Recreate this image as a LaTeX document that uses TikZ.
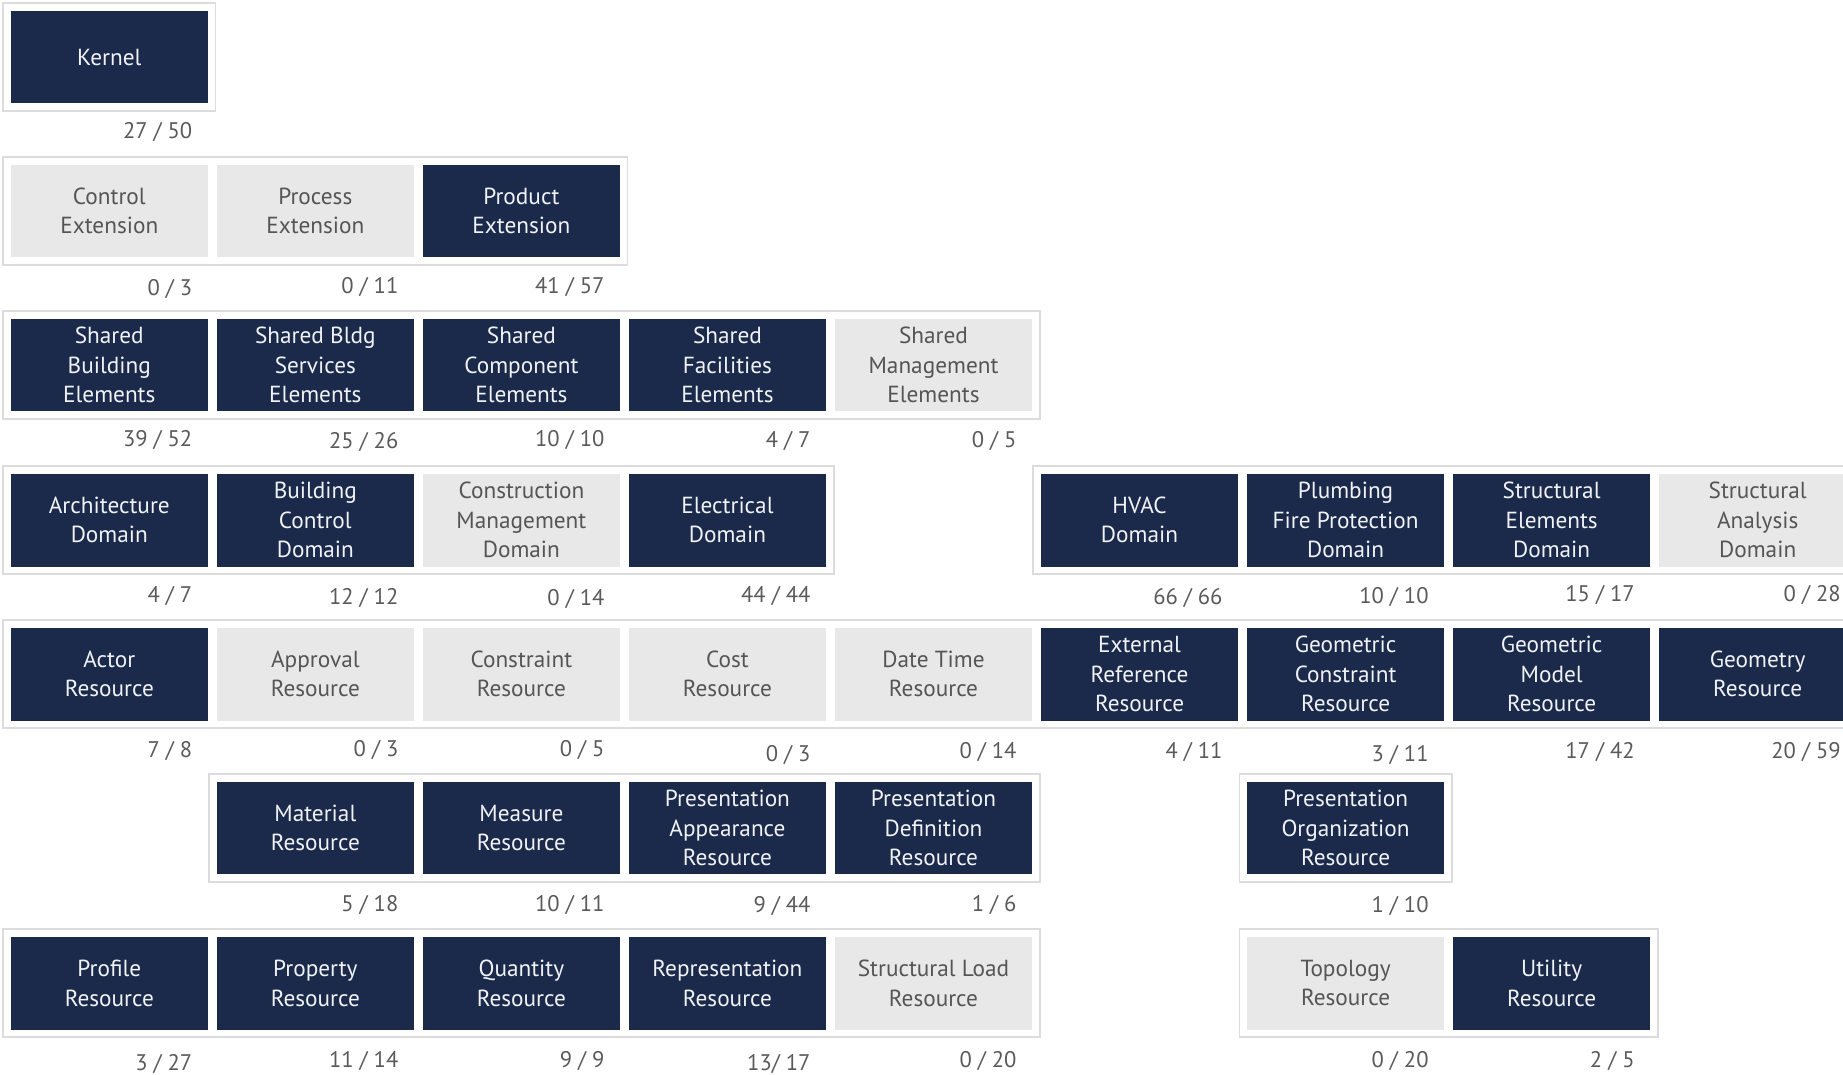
\documentclass[tikz,border=0pt]{standalone}
\usepackage{fontspec}
\setmainfont{PT Sans}
\usetikzlibrary{calc}
\definecolor{navy}{RGB}{27,42,74}
\definecolor{lightbox}{RGB}{232,232,232}
\definecolor{graytext}{RGB}{85,85,85}
\definecolor{numtext}{RGB}{90,90,90}
\definecolor{framecol}{RGB}{220,220,220}
\definecolor{boxtext}{RGB}{240,242,246}
\tikzset{
  box/.style={minimum width=84pt, minimum height=39.5pt, inner sep=0pt, align=center,
    font=\fontsize{9.9pt}{12.5pt}\selectfont},
  dark/.style={box, fill=navy, text=boxtext},
  light/.style={box, fill=lightbox, text=graytext},
  frame/.style={draw=framecol, line width=0.7pt},
  cnt/.style={anchor=east, inner sep=0pt, yshift=-1pt, text=numtext, font=\fontsize{9.6pt}{11pt}\selectfont}
}
\begin{document}
\begin{tikzpicture}[x=0.5pt, y=-0.5pt]
\useasboundingbox (0,0) rectangle (1568,914);
\clip (0,0) rectangle (1568,914);
% row 1
\node[dark] (kernel) at (93,48.5) {Kernel};
% row 2
\node[light] (ctrlext) at (93,179.5) {Control\\Extension};
\node[light] (procext) at (268.3,179.5) {Process\\Extension};
\node[dark] (prodext) at (443.6,179.5) {Product\\Extension};
% row 3
\node[dark] (sbe) at (93,310.5) {Shared\\Building\\Elements};
\node[dark] (sbse) at (268.3,310.5) {Shared Bldg\\Services\\Elements};
\node[dark] (sce) at (443.6,310.5) {Shared\\Component\\Elements};
\node[dark] (sfe) at (618.9,310.5) {Shared\\Facilities\\Elements};
\node[light] (sme) at (794.2,310.5) {Shared\\Management\\Elements};
% row 4
\node[dark] (arch) at (93,442.5) {Architecture\\Domain};
\node[dark] (bcd) at (268.3,442.5) {Building\\Control\\Domain};
\node[light] (cmd) at (443.6,442.5) {Construction\\Management\\Domain};
\node[dark] (elec) at (618.9,442.5) {Electrical\\Domain};
\node[dark] (hvac) at (969.5,442.5) {HVAC\\Domain};
\node[dark] (plumb) at (1144.8,442.5) {Plumbing\\Fire Protection\\Domain};
\node[dark] (sted) at (1320.1,442.5) {Structural\\Elements\\Domain};
\node[light] (stad) at (1495.4,442.5) {Structural\\Analysis\\Domain};
% row 5
\node[dark] (actor) at (93,573.5) {Actor\\Resource};
\node[light] (appr) at (268.3,573.5) {Approval\\Resource};
\node[light] (cons) at (443.6,573.5) {Constraint\\Resource};
\node[light] (cost) at (618.9,573.5) {Cost\\Resource};
\node[light] (dt) at (794.2,573.5) {Date Time\\Resource};
\node[dark] (extref) at (969.5,573.5) {External\\Reference\\Resource};
\node[dark] (gcr) at (1144.8,573.5) {Geometric\\Constraint\\Resource};
\node[dark] (gmr) at (1320.1,573.5) {Geometric\\Model\\Resource};
\node[dark] (geom) at (1495.4,573.5) {Geometry\\Resource};
% row 6
\node[dark] (mat) at (268.3,704.5) {Material\\Resource};
\node[dark] (meas) at (443.6,704.5) {Measure\\Resource};
\node[dark] (pres) at (618.9,704.5) {Presentation\\Appearance\\Resource};
\node[dark] (pdef) at (794.2,704.5) {Presentation\\Definition\\Resource};
\node[dark] (porg) at (1144.8,704.5) {Presentation\\Organization\\Resource};
% row 7
\node[dark] (prof) at (93,836.5) {Profile\\Resource};
\node[dark] (prop) at (268.3,836.5) {Property\\Resource};
\node[dark] (qty) at (443.6,836.5) {Quantity\\Resource};
\node[dark] (repr) at (618.9,836.5) {Representation\\Resource};
\node[light] (sload) at (794.2,836.5) {Structural Load\\Resource};
\node[light] (topo) at (1144.8,836.5) {Topology\\Resource};
\node[dark] (util) at (1320.1,836.5) {Utility\\Resource};
% frames
\draw[frame] ($(kernel.north west)+(-6,-6)$) rectangle ($(kernel.south east)+(6,6)$);
\draw[frame] ($(ctrlext.north west)+(-6,-6)$) rectangle ($(prodext.south east)+(6,6)$);
\draw[frame] ($(sbe.north west)+(-6,-6)$) rectangle ($(sme.south east)+(6,6)$);
\draw[frame] ($(arch.north west)+(-6,-6)$) rectangle ($(elec.south east)+(6,6)$);
\draw[frame] ($(hvac.north west)+(-6,-6)$) rectangle ($(stad.south east)+(30,6)$);
\draw[frame] ($(actor.north west)+(-6,-6)$) rectangle ($(geom.south east)+(30,6)$);
\draw[frame] ($(mat.north west)+(-6,-6)$) rectangle ($(pdef.south east)+(6,6)$);
\draw[frame] ($(porg.north west)+(-6,-6)$) rectangle ($(porg.south east)+(6,6)$);
\draw[frame] ($(prof.north west)+(-6,-6)$) rectangle ($(sload.south east)+(6,6)$);
\draw[frame] ($(topo.north west)+(-6,-6)$) rectangle ($(util.south east)+(6,6)$);
% counts
\node[cnt] (c-kernel) at (164,110) {27 / 50};
\node[cnt] (c-ctrlext) at (164,244) {0 / 3};
\node[cnt] (c-procext) at (339.3,242) {0 / 11};
\node[cnt] (c-prodext) at (514.6,242) {41 / 57};
\node[cnt] (c-sbe) at (164,372) {39 / 52};
\node[cnt] (c-sbse) at (339.3,374) {25 / 26};
\node[cnt] (c-sce) at (514.6,372) {10 / 10};
\node[cnt] (c-sfe) at (689.9,373) {4 / 7};
\node[cnt] (c-sme) at (865.2,373) {0 / 5};
\node[cnt] (c-arch) at (164,505) {4 / 7};
\node[cnt] (c-bcd) at (339.3,507) {12 / 12};
\node[cnt] (c-cmd) at (514.6,508) {0 / 14};
\node[cnt] (c-elec) at (689.9,505) {44 / 44};
\node[cnt] (c-hvac) at (1040.5,507) {66 / 66};
\node[cnt] (c-plumb) at (1215.8,506) {10 / 10};
\node[cnt] (c-sted) at (1391.1,504) {15 / 17};
\node[cnt] (c-stad) at (1566.4,504) {0 / 28};
\node[cnt] (c-actor) at (164,637) {7 / 8};
\node[cnt] (c-appr) at (339.3,636) {0 / 3};
\node[cnt] (c-cons) at (514.6,636) {0 / 5};
\node[cnt] (c-cost) at (689.9,640) {0 / 3};
\node[cnt] (c-dt) at (865.2,638) {0 / 14};
\node[cnt] (c-extref) at (1040.5,638) {4 / 11};
\node[cnt] (c-gcr) at (1215.8,640) {3 / 11};
\node[cnt] (c-gmr) at (1391.1,638) {17 / 42};
\node[cnt] (c-geom) at (1566.4,638) {20 / 59};
\node[cnt] (c-mat) at (339.3,768) {5 / 18};
\node[cnt] (c-meas) at (514.6,768) {10 / 11};
\node[cnt] (c-pres) at (689.9,769) {9 / 44};
\node[cnt] (c-pdef) at (865.2,768) {1 / 6};
\node[cnt] (c-porg) at (1215.8,769) {1 / 10};
\node[cnt] (c-prof) at (164,903) {3 / 27};
\node[cnt] (c-prop) at (339.3,901) {11 / 14};
\node[cnt] (c-qty) at (514.6,901) {9 / 9};
\node[cnt] (c-repr) at (689.9,903) {13/ 17};
\node[cnt] (c-sload) at (865.2,901) {0 / 20};
\node[cnt] (c-topo) at (1215.8,901) {0 / 20};
\node[cnt] (c-util) at (1391.1,901) {2 / 5};
\end{tikzpicture}
\end{document}
